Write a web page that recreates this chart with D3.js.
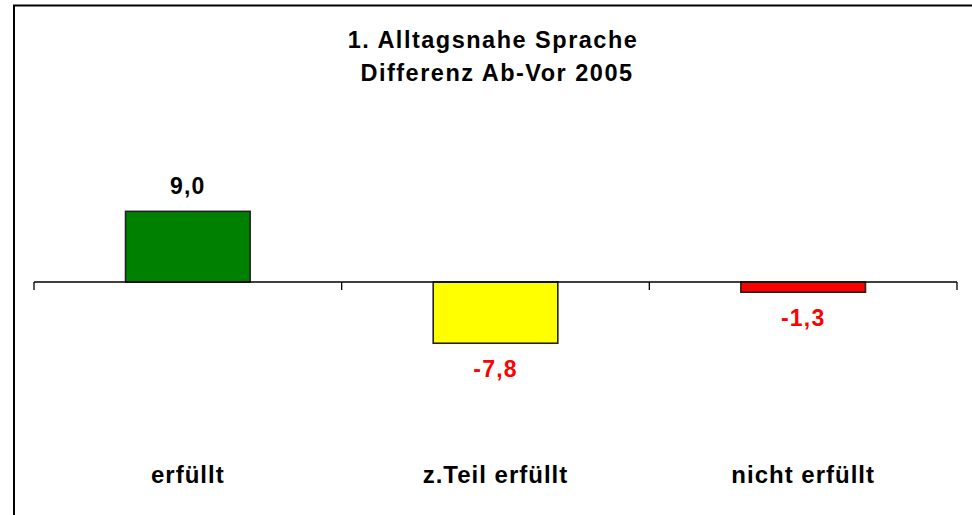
<!DOCTYPE html>
<html>
<head>
<meta charset="utf-8">
<script src="https://cdn.jsdelivr.net/npm/d3@7"></script>
<style>
  body { margin: 0; background: #fff; }
  text { font-family: "Liberation Sans", Arial, sans-serif; font-weight: bold; }
</style>
</head>
<body>
<script>
// data
var categories = ["erfüllt", "z.Teil erfüllt", "nicht erfüllt"];
var values = [9.0, -7.8, -1.3];
var barColors = ["#008000", "#FFFF00", "#FF0000"];
var titleLines = ["1. Alltagsnahe Sprache", " Differenz Ab-Vor 2005"];

var w = 972, h = 515;

var svg = d3.select("body").append("svg")
    .attr("width", w)
    .attr("height", h);

// outer frame (right and bottom edges fall outside the picture)
svg.append("rect")
    .attr("x", 14)
    .attr("y", 5.5)
    .attr("width", 1000)
    .attr("height", 600)
    .attr("fill", "none")
    .attr("stroke", "#000")
    .attr("stroke-width", 2);

var x = d3.scaleBand()
    .domain(categories)
    .range([34, 957])
    .padding(0);

var y = d3.scaleLinear()
    .domain([-10, 10])
    .range([360.5, 203.5]);

var barW = x.bandwidth() * 0.405;

// bars
svg.selectAll("rect.bar")
    .data(values)
    .enter()
    .append("rect")
    .attr("class", "bar")
    .attr("x", function(d, i) { return x(categories[i]) + (x.bandwidth() - barW) / 2; })
    .attr("y", function(d) { return y(Math.max(0, d)); })
    .attr("width", barW)
    .attr("height", function(d) { return Math.abs(y(d) - y(0)); })
    .attr("fill", function(d, i) { return barColors[i]; })
    .attr("stroke", "#222")
    .attr("stroke-width", 1.6);

// category axis
svg.append("line")
    .attr("x1", x.range()[0])
    .attr("x2", x.range()[1])
    .attr("y1", y(0))
    .attr("y2", y(0))
    .attr("stroke", "#000")
    .attr("stroke-width", 1.3);

var tickPos = categories.map(function(c) { return x(c); }).concat([x.range()[1]]);
svg.selectAll("line.tick")
    .data(tickPos)
    .enter()
    .append("line")
    .attr("class", "tick")
    .attr("x1", function(d) { return d; })
    .attr("x2", function(d) { return d; })
    .attr("y1", y(0))
    .attr("y2", y(0) + 8)
    .attr("stroke", "#000")
    .attr("stroke-width", 1.3);

// value labels (hyphen minus, decimal comma)
svg.selectAll("text.value")
    .data(values)
    .enter()
    .append("text")
    .attr("class", "value")
    .attr("x", function(d, i) { return x(categories[i]) + x.bandwidth() / 2; })
    .attr("y", function(d) { return d >= 0 ? y(d) - 17 : y(d) + 34; })
    .attr("text-anchor", "middle")
    .attr("font-size", 23)
    .attr("letter-spacing", 1.2)
    .attr("fill", function(d) { return d >= 0 ? "#000" : "#FF0000"; })
    .text(function(d) { return d.toFixed(1).replace(".", ","); });

// category labels
svg.selectAll("text.cat")
    .data(categories)
    .enter()
    .append("text")
    .attr("class", "cat")
    .attr("x", function(d) { return x(d) + x.bandwidth() / 2; })
    .attr("y", 483)
    .attr("text-anchor", "middle")
    .attr("font-size", 24)
    .attr("letter-spacing", 1)
    .text(function(d) { return d; });

// title
svg.selectAll("text.title")
    .data(titleLines)
    .enter()
    .append("text")
    .attr("class", "title")
    .attr("x", 493)
    .attr("y", function(d, i) { return 48 + i * 33; })
    .attr("text-anchor", "middle")
    .attr("font-size", 23.5)
    .attr("letter-spacing", 1.5)
    .style("white-space", "pre")
    .text(function(d) { return d; });
</script>
</body>
</html>
